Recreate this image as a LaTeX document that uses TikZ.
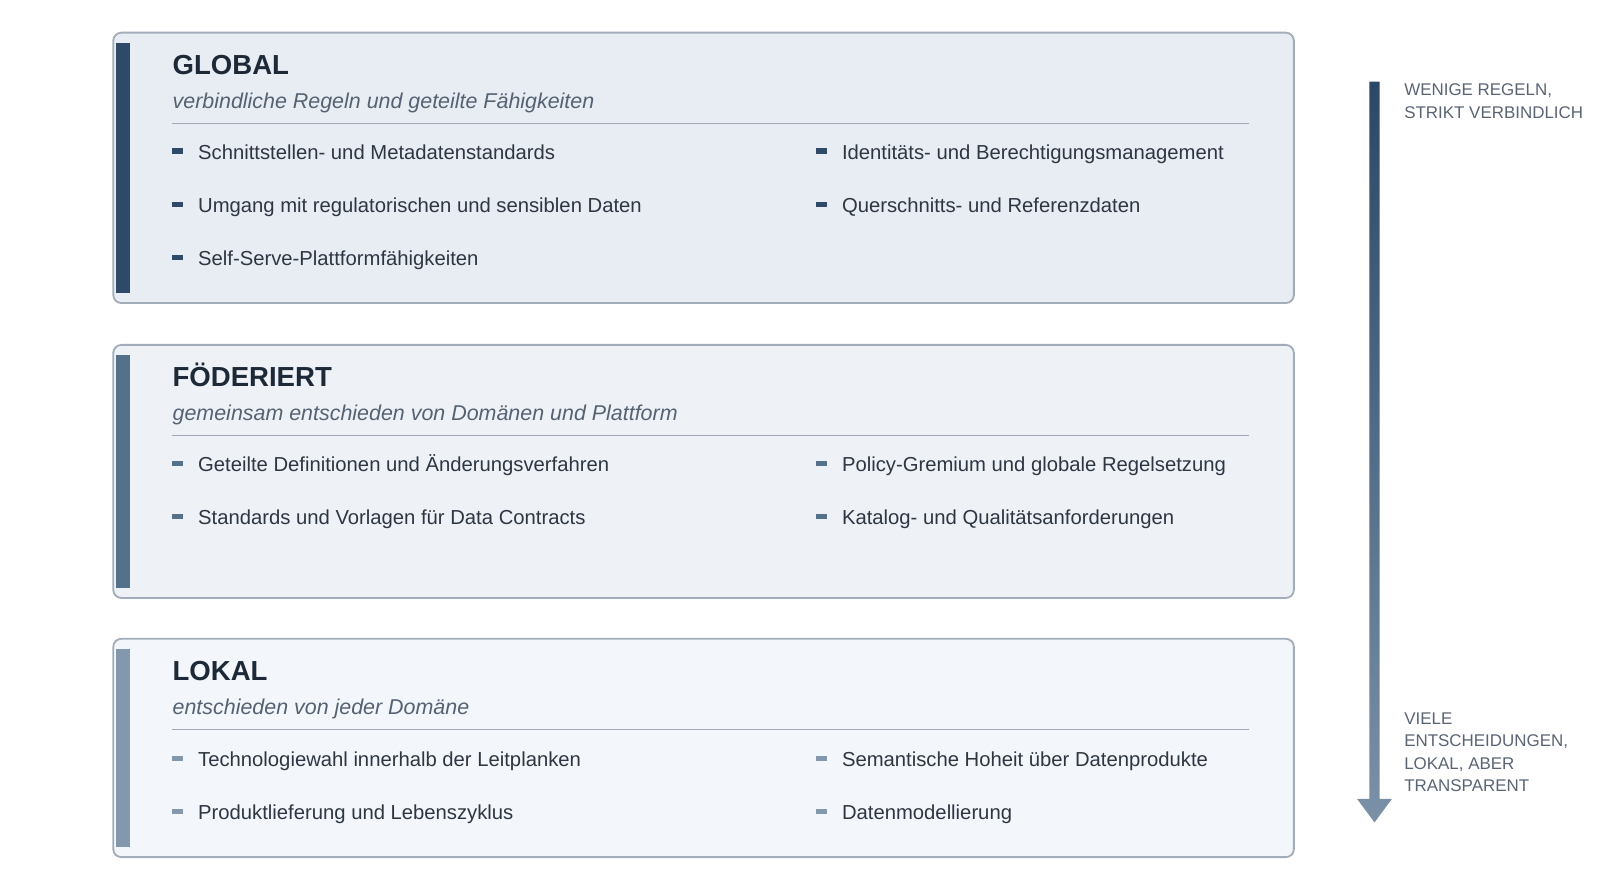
\documentclass[tikz,border=0pt]{standalone}
\usepackage{fontspec}
\setmainfont{Liberation Sans}
\definecolor{boxline}{HTML}{A3ADBA}
\definecolor{fillA}{HTML}{E8EDF4}
\definecolor{fillB}{HTML}{EEF2F7}
\definecolor{fillC}{HTML}{F3F6FA}
\definecolor{barA}{HTML}{2E4A68}
\definecolor{barB}{HTML}{557089}
\definecolor{barC}{HTML}{8498AD}
\definecolor{titlecol}{HTML}{1D2937}
\definecolor{subcol}{HTML}{566272}
\definecolor{itemcol}{HTML}{2E3642}
\definecolor{sidecol}{HTML}{5A6473}
\definecolor{sepcol}{HTML}{A0A9B5}
\definecolor{arrtop}{HTML}{2C4867}
\definecolor{arrbot}{HTML}{7B91A8}
\tikzset{
  panel/.style={draw=boxline, line width=1.8pt, rounded corners=8pt},
  ttl/.style={anchor=base west, inner sep=0pt, font=\fontsize{27}{32}\selectfont\bfseries, text=titlecol},
  subttl/.style={anchor=base west, inner sep=0pt, font=\fontsize{21}{25}\selectfont\itshape, text=subcol},
  itm/.style={anchor=base west, inner sep=0pt, font=\fontsize{19.85}{24}\selectfont, text=itemcol},
  side/.style={anchor=north west, inner sep=0pt, align=left, font=\fontsize{16.6}{22}\selectfont, text=sidecol},
  sep/.style={draw=sepcol, line width=1.4pt},
}
\newcommand\myitem[5]{%
  \fill[#4] (#2,#3-2.5) rectangle (#2+10,#3+2.5);
  \node[itm] (#1) at (#2+25,#3+8) {#5};
}
\begin{document}
\begin{tikzpicture}[x=1pt,y=-1pt]
\useasboundingbox[fill=white] (0,0) rectangle (1568,872);
% ---------- GLOBAL ----------
\draw[panel, fill=fillA] (111,32) rectangle (1268,297);
\fill[barA] (114,42) rectangle (127,287);
\node[ttl] (tA) at (169,73) {GLOBAL};
\node[subttl] (sA) at (169,106.5) {verbindliche Regeln und geteilte Fähigkeiten};
\draw[sep] (169,121) -- (1224,121);
\myitem{a1}{169}{148}{barA}{Schnittstellen- und Metadatenstandards}
\myitem{a2}{169}{200}{barA}{Umgang mit regulatorischen und sensiblen Daten}
\myitem{a3}{169}{252}{barA}{Self-Serve-Plattformfähigkeiten}
\myitem{a4}{800}{148}{barA}{Identitäts- und Berechtigungsmanagement}
\myitem{a5}{800}{200}{barA}{Querschnitts- und Referenzdaten}
% ---------- FÖDERIERT ----------
\draw[panel, fill=fillB] (111,338) rectangle (1268,586);
\fill[barB] (114,348) rectangle (127,576);
\node[ttl] (tB) at (169,379) {FÖDERIERT};
\node[subttl] (sB) at (169,412.5) {gemeinsam entschieden von Domänen und Plattform};
\draw[sep] (169,427) -- (1224,427);
\myitem{b1}{169}{454}{barB}{Geteilte Definitionen und Änderungsverfahren}
\myitem{b2}{169}{506}{barB}{Standards und Vorlagen für Data Contracts}
\myitem{b3}{800}{454}{barB}{Policy-Gremium und globale Regelsetzung}
\myitem{b4}{800}{506}{barB}{Katalog- und Qualitätsanforderungen}
% ---------- LOKAL ----------
\draw[panel, fill=fillC] (111,626) rectangle (1268,840);
\fill[barC] (114,636) rectangle (127,830);
\node[ttl] (tC) at (169,667) {LOKAL};
\node[subttl] (sC) at (169,700.5) {entschieden von jeder Domäne};
\draw[sep] (169,715) -- (1224,715);
\myitem{c1}{169}{743}{barC}{Technologiewahl innerhalb der Leitplanken}
\myitem{c2}{169}{795}{barC}{Produktlieferung und Lebenszyklus}
\myitem{c3}{800}{743}{barC}{Semantische Hoheit über Datenprodukte}
\myitem{c4}{800}{795}{barC}{Datenmodellierung}
% ---------- arrow ----------
\shade[top color=arrtop, bottom color=arrbot]
  (1342,80) -- (1352,80) -- (1352,783) -- (1364,783) -- (1347,806) -- (1330,783) -- (1342,783) -- cycle;
\node[side] (top) at (1376,82) {WENIGE REGELN,\\STRIKT VERBINDLICH};
\node[side] (bot) at (1376,698) {VIELE\\ENTSCHEIDUNGEN,\\LOKAL, ABER\\TRANSPARENT};
\end{tikzpicture}
\end{document}
